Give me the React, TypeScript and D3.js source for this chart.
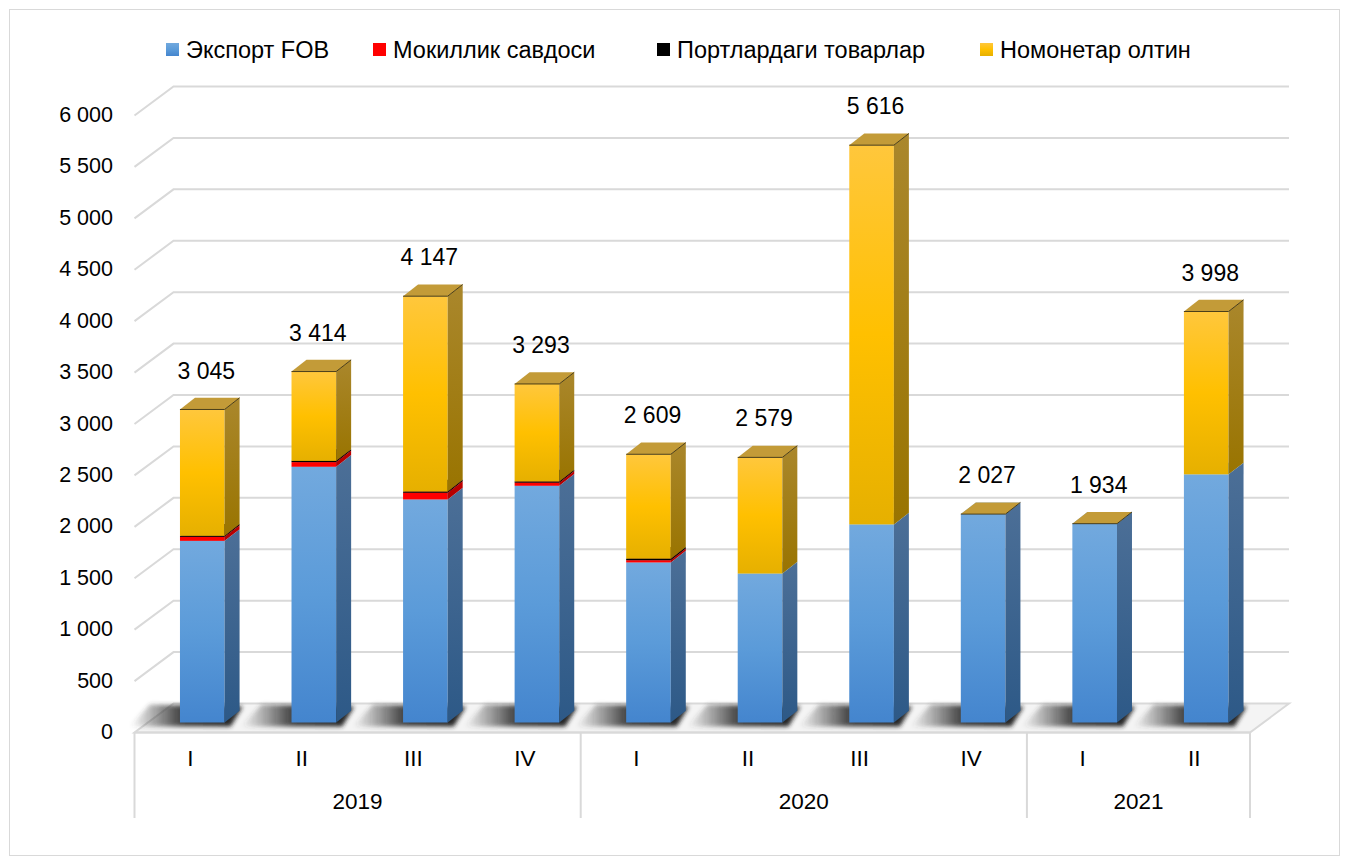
import React from "react";
import * as d3 from "d3";

const quarters = ["I", "II", "III", "IV", "I", "II", "III", "IV", "I", "II"];
const years = ["2019", "2020", "2021"];
const yearSpans = [4, 4, 2];

const exportFob = [1767, 2488, 2170, 2303, 1557, 1449, 1927, 2027, 1934, 2414];
const mokillik = [39, 45, 65, 30, 22, 0, 0, 0, 0, 0];
const portlar = [10, 12, 12, 12, 15, 0, 0, 0, 0, 0];
const oltin = [1229, 869, 1900, 948, 1015, 1130, 3689, 0, 0, 1584];

const seriesNames = ["Экспорт FOB", "Мокиллик савдоси", "Портлардаги товарлар", "Номонетар олтин"];
const yTicks = [0, 500, 1000, 1500, 2000, 2500, 3000, 3500, 4000, 4500, 5000, 5500, 6000];

const W = 1349;
const H = 863;
const FONT = "'Liberation Sans', Arial, sans-serif";

// 3D geometry
const frontLeft = 134.5;
const frontRight = 1250;
const frontBase = 732.5;
const backDx = 39;
const backDy = -29;
const barDx = 12; // bar front plane offset from front of floor
const barDy = -10;
const sideDx = 15;
const sideDy = -11.7;

const keys = ["exp", "mok", "port", "olt"];
const rows = quarters.map((q, i) => ({
  exp: exportFob[i],
  mok: mokillik[i],
  port: portlar[i],
  olt: oltin[i],
}));

const colors = {
  exp: { front: ["#72a9de", "#4485ce"], side: ["#4c6f97", "#2d5987"], top: "#8dbbe6" },
  mok: { front: ["#ff0000", "#ff0000"], side: ["#c00000", "#b00000"], top: "#ff3030" },
  port: { front: ["#000000", "#000000"], side: ["#000000", "#000000"], top: "#222222" },
  olt: { front: ["#ffc73c", "#e6b000"], side: ["#aa872c", "#997400"], top: "#c39b38" },
};

const fmt = (v: number) => d3.format(",")(v).replace(/,/g, " ");

export default function App() {
  const x = d3
    .scaleBand<number>()
    .domain(d3.range(quarters.length))
    .range([frontLeft, frontRight])
    .padding(0);
  const bw = x.bandwidth();
  const barW = bw * 0.4;

  const yFront = d3.scaleLinear().domain([0, 6000]).range([frontBase, frontBase - 617]);
  const yBack = d3.scaleLinear().domain([0, 6000]).range([frontBase + backDy, frontBase + backDy - 617]);
  const yBar = d3.scaleLinear().domain([0, 6000]).range([frontBase + barDy, frontBase + barDy - 616.8]);

  const stacked = d3.stack<any>().keys(keys)(rows);
  const totals = rows.map((r) => r.exp + r.mok + r.port + r.olt);

  // year group boundaries
  const bounds: number[] = [0];
  yearSpans.forEach((s, i) => bounds.push(bounds[i] + s));

  const legendX = [166, 373, 657, 980];

  const bars: React.ReactNode[] = [];
  quarters.forEach((_, i) => {
    const L = (x(i) as number) + (bw - barW) / 2 + barDx;
    const R = L + barW;
    stacked.forEach((s, k) => {
      const [v0, v1] = s[i];
      const key = keys[k];
      const isTop = k === keys.length - 1;
      if (v1 - v0 <= 0 && !isTop) return;
      const yb = yBar(v0);
      const yt = yBar(v1);
      const c = (colors as any)[key];
      bars.push(
        <g key={`b${i}-${k}`}>
          <rect x={L} y={yt} width={barW} height={Math.max(yb - yt, 0)} fill={`url(#gf-${key})`} />
          <polygon
            points={`${R},${yb} ${R + sideDx},${yb + sideDy} ${R + sideDx},${yt + sideDy} ${R},${yt}`}
            fill={`url(#gs-${key})`}
          />
          <polygon
            points={`${L},${yt} ${R},${yt} ${R + sideDx},${yt + sideDy} ${L + sideDx},${yt + sideDy}`}
            fill={c.top}
          />
          {isTop && (
            <path
              d={`M${L},${yt} L${R},${yt} L${R + sideDx},${yt + sideDy}`}
              fill="none"
              stroke="#3a3010"
              strokeWidth={0.9}
            />
          )}
        </g>
      );
    });
  });

  return (
    <svg
      width={W}
      height={H}
      style={{ position: "absolute", left: 0, top: 0, background: "#fff" }}
      fontFamily={FONT}
    >
      <defs>
        {keys.map((key) => {
          const c = (colors as any)[key];
          return (
            <React.Fragment key={key}>
              <linearGradient id={`gf-${key}`} x1="0" y1="0" x2="0" y2="1">
                <stop offset="0" stopColor={c.front[0]} />
                {key === "olt" && <stop offset="0.5" stopColor="#ffc000" />}
                {key === "exp" && <stop offset="0.5" stopColor="#5b9bd9" />}
                <stop offset="1" stopColor={c.front[1]} />
              </linearGradient>
              <linearGradient id={`gs-${key}`} x1="0" y1="0" x2="0" y2="1">
                <stop offset="0" stopColor={c.side[0]} />
                <stop offset="1" stopColor={c.side[1]} />
              </linearGradient>
            </React.Fragment>
          );
        })}
        <linearGradient id="shadowGrad" x1="0" y1="0" x2="1" y2="0">
          <stop offset="0" stopColor="#404040" stopOpacity="0" />
          <stop offset="0.45" stopColor="#303030" stopOpacity="0.9" />
          <stop offset="1" stopColor="#202020" stopOpacity="1" />
        </linearGradient>
        <filter id="blur" x="-30%" y="-80%" width="160%" height="260%">
          <feGaussianBlur stdDeviation="2.2" />
        </filter>
      </defs>

      <rect x={9.5} y={9.5} width={1330} height={846} fill="#fff" stroke="#d9d9d9" strokeWidth={1} />

      {/* gridlines: side wall diagonal + back wall horizontal */}
      {yTicks
        .filter((t) => t > 0)
        .map((t) => (
          <path
            key={`g${t}`}
            d={`M${frontLeft},${yFront(t)} L${frontLeft + backDx},${yBack(t)} L${frontRight + backDx},${yBack(t)}`}
            fill="none"
            stroke="#d9d9d9"
            strokeWidth={2}
          />
        ))}

      {/* floor */}
      <polygon
        points={`${frontLeft},${frontBase} ${frontRight},${frontBase} ${frontRight + backDx},${frontBase + backDy} ${frontLeft + backDx},${frontBase + backDy}`}
        fill="#f4f4f4"
        stroke="#d9d9d9"
        strokeWidth={2}
      />

      {/* shadows */}
      {quarters.map((_, i) => {
        const L = (x(i) as number) + (bw - barW) / 2 + barDx;
        const b = yBar(0);
        return (
          <polygon
            key={`s${i}`}
            points={`${L - 50},${b + 4} ${L + barW + 6},${b + 4} ${L + barW + 18},${b - 16} ${L - 30},${b - 18}`}
            fill="url(#shadowGrad)"
            filter="url(#blur)"
          />
        );
      })}

      {bars}

      {/* data labels */}
      {totals.map((t, i) => {
        const L = (x(i) as number) + (bw - barW) / 2 + barDx;
        return (
          <text
            key={`l${i}`}
            x={L + barW / 2 + 4}
            y={yBar(t) - 39}
            dy="0.35em"
            textAnchor="middle"
            fontSize={23}
            fill="#000"
          >
            {fmt(t)}
          </text>
        );
      })}

      {/* y axis labels */}
      {yTicks.map((t) => (
        <text
          key={`y${t}`}
          x={113}
          y={yFront(t) - 1}
          dy="0.35em"
          textAnchor="end"
          fontSize={21.5}
          fill="#000"
        >
          {fmt(t)}
        </text>
      ))}

      {/* category axis */}
      <line x1={frontLeft} x2={frontRight} y1={frontBase} y2={frontBase} stroke="#d9d9d9" strokeWidth={2} />
      {bounds.map((b) => {
        const xx = b === quarters.length ? frontRight : (x(b) as number);
        return (
          <line key={`v${b}`} x1={xx} x2={xx} y1={frontBase} y2={818} stroke="#d9d9d9" strokeWidth={2} />
        );
      })}
      {quarters.map((q, i) => (
        <text key={`q${i}`} x={(x(i) as number) + bw / 2} y={766} textAnchor="middle" fontSize={22.5} fill="#000">
          {q}
        </text>
      ))}
      {years.map((yr, k) => {
        const a = x(bounds[k]) as number;
        const b = bounds[k + 1] === quarters.length ? frontRight : (x(bounds[k + 1]) as number);
        return (
          <text key={`yr${k}`} x={(a + b) / 2} y={809} textAnchor="middle" fontSize={22.5} fill="#000">
            {yr}
          </text>
        );
      })}

      {/* legend */}
      {seriesNames.map((name, k) => (
        <g key={`lg${k}`} transform={`translate(${legendX[k]},43)`}>
          <rect width={13} height={13} fill={`url(#gf-${keys[k]})`} />
          <text x={20} y={6.5} dy="0.35em" fontSize={23.5} fill="#000">
            {name}
          </text>
        </g>
      ))}
    </svg>
  );
}
